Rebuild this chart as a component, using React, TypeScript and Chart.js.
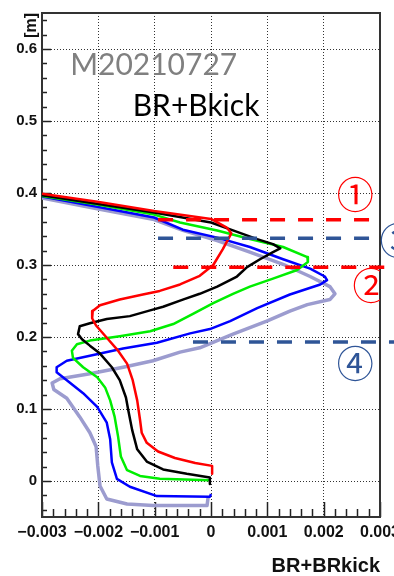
import React, { useEffect, useRef } from "react";
import { Chart, registerables } from "chart.js";

Chart.register(...registerables);

// ---- axis ranges / ticks ----
const X_MIN = -0.003;
const X_MAX = 0.003;
const Y_MIN = -0.05;
const Y_MAX = 0.65;
const X_TICKS = [-0.003, -0.002, -0.001, 0, 0.001, 0.002, 0.003];
const Y_TICKS = [0, 0.1, 0.2, 0.3, 0.4, 0.5, 0.6];
const X_MINOR = 0.0002;
const Y_MINOR = 0.02;

const X_TITLE = "BR+BRkick";
const Y_TITLE = "[m]";
const TEXT_RUN = "M20210727";
const TEXT_CFG = "BR+Bkick";

// ---- series ----
const redX = [-0.0030, -0.00202, -0.00101, 0, 0.00028, 0.00036, 0.00021, 0.00004, -0.0002, -0.00055, -0.00091, -0.00121, -0.00162, -0.00197, -0.0021, -0.00211, -0.00204, -0.00185, -0.00165, -0.00149, -0.00139, -0.00131, -0.00126, -0.00123, -0.00114, -0.00094, -0.00064, -0.00028, 0.00002, 0.00002];
const redY = [0.399, 0.388, 0.375, 0.364, 0.352, 0.344, 0.322, 0.3, 0.285, 0.273, 0.264, 0.259, 0.252, 0.244, 0.236, 0.226, 0.216, 0.199, 0.181, 0.163, 0.14, 0.112, 0.085, 0.067, 0.053, 0.041, 0.032, 0.025, 0.021, 0.01];

const blackX = [-0.0030, -0.00202, -0.00101, 0, 0.00039, 0.00082, 0.0011, 0.00123, 0.0011, 0.00087, 0.00064, 0.00046, 0.00011, -0.0002, -0.0005, -0.00085, -0.00108, -0.00144, -0.00185, -0.00215, -0.00233, -0.00236, -0.00229, -0.00215, -0.00197, -0.00176, -0.00162, -0.00151, -0.00147, -0.0014, -0.00131, -0.00114, -0.00085, -0.00043, -0.00002, -0.00002];
const blackY = [0.397, 0.385, 0.373, 0.359, 0.348, 0.336, 0.329, 0.323, 0.318, 0.308, 0.297, 0.284, 0.27, 0.26, 0.252, 0.242, 0.237, 0.229, 0.225, 0.219, 0.215, 0.204, 0.197, 0.188, 0.177, 0.158, 0.14, 0.116, 0.099, 0.071, 0.044, 0.027, 0.016, 0.01, 0.005, -0.004];

const greenX = [-0.0030, -0.00202, -0.00101, -0.00055, 0.00011, 0.00069, 0.00128, 0.00171, 0.00172, 0.00153, 0.0011, 0.00069, 0.00039, 0.00004, -0.00032, -0.00067, -0.00108, -0.00162, -0.00215, -0.00238, -0.00247, -0.00245, -0.00227, -0.00202, -0.00188, -0.00179, -0.00171, -0.00165, -0.0016, -0.00149, -0.00126, -0.00091, -0.00002];
const greenY = [0.396, 0.384, 0.37, 0.359, 0.348, 0.336, 0.325, 0.311, 0.304, 0.293, 0.281, 0.27, 0.26, 0.247, 0.232, 0.218, 0.208, 0.201, 0.195, 0.19, 0.181, 0.171, 0.158, 0.144, 0.13, 0.112, 0.089, 0.062, 0.034, 0.015, 0.007, 0.003, 0.001];

const blueX = [-0.0030, -0.00202, -0.00101, -0.0005, 0.00011, 0.00069, 0.00128, 0.00176, 0.00202, 0.00206, 0.00194, 0.0014, 0.00082, 0.00034, -0.00002, -0.00037, -0.00096, -0.00156, -0.00215, -0.00256, -0.00274, -0.00274, -0.00256, -0.00227, -0.00202, -0.00185, -0.00179, -0.00176, -0.00167, -0.00144, -0.00096, -0.00002, 0];
const blueY = [0.395, 0.381, 0.366, 0.349, 0.338, 0.325, 0.308, 0.295, 0.284, 0.279, 0.273, 0.259, 0.24, 0.222, 0.211, 0.205, 0.192, 0.184, 0.174, 0.167, 0.158, 0.151, 0.14, 0.122, 0.103, 0.081, 0.058, 0.026, 0.003, -0.008, -0.021, -0.022, -0.018];

const lavX = [-0.0030, -0.00202, -0.00101, -0.0005, 0.00011, 0.00069, 0.00128, 0.00176, 0.00211, 0.0022, 0.00211, 0.00171, 0.0014, 0.00099, 0.00039, -0.0002, -0.00055, -0.00103, -0.00156, -0.00215, -0.00268, -0.00282, -0.00279, -0.00256, -0.00233, -0.00215, -0.00204, -0.00201, -0.00197, -0.00185, -0.00149, -0.00103, -0.00007, -0.00005];
const lavY = [0.393, 0.378, 0.363, 0.348, 0.334, 0.318, 0.301, 0.284, 0.27, 0.26, 0.252, 0.245, 0.236, 0.222, 0.204, 0.185, 0.179, 0.167, 0.158, 0.149, 0.142, 0.136, 0.127, 0.115, 0.089, 0.067, 0.048, 0.021, -0.007, -0.025, -0.032, -0.034, -0.034, -0.022];

// ---- annotation dashed lines (①, ②, ③, ④) ----
const markLabels = ["\u2460", "\u2461", "\u2462", "\u2463"];
const markY = [0.363, 0.297, 0.337, 0.193];
const markXStart = [-0.00094, -0.00067, -0.00094, -0.00032];
const markXEnd = [0.00282, 0.00309, 0.00282, 0.00335];
const markLabelX = [0.00256, 0.00284, 0.00332, 0.00256];
const markLabelY = [0.397, 0.271, 0.333, 0.162];
const markColors = ["#ff0000", "#ff0000", "#2f5597", "#2f5597"];

const RED = "#ff0000";
const BLACK = "#000000";
const GREEN = "#00ee00";
const BLUE = "#0000ff";
const LAV = "#9c9ccf";

const toPts = (xs: number[], ys: number[]) => xs.map((x, i) => ({ x, y: ys[i] }));

const fmtX = (v: number) => {
  if (Math.abs(v) < 1e-12) return "0";
  return (v < 0 ? "\u2212" : "") + Math.abs(v).toFixed(3);
};
const fmtY = (v: number) => {
  if (Math.abs(v) < 1e-12) return "0";
  return v.toFixed(1);
};

const TICK_FONT = "'Liberation Sans', Arial, sans-serif";

export default function App() {
  const ref = useRef<HTMLCanvasElement>(null);

  useEffect(() => {
    const canvas = ref.current;
    if (!canvas) return;

    const decor = {
      id: "decor",
      beforeDatasetsDraw(chart: any) {
        const { ctx, chartArea } = chart;
        const { left, right, top, bottom } = chartArea;
        const xs = chart.scales.x;
        const ys = chart.scales.y;
        ctx.save();
        ctx.strokeStyle = "#222";
        ctx.lineWidth = 1.5;
        // x ticks (inside, pointing up)
        const nx = Math.round((X_MAX - X_MIN) / X_MINOR);
        for (let i = 0; i <= nx; i++) {
          const v = X_MIN + i * X_MINOR;
          const px = Math.round(xs.getPixelForValue(v)) + 0.5;
          const major = i % 5 === 0;
          ctx.beginPath();
          ctx.moveTo(px, bottom);
          ctx.lineTo(px, bottom - (major ? 15 : 8));
          ctx.stroke();
        }
        // y ticks (inside, pointing right)
        for (let i = -2; i <= 32; i++) {
          const v = i * Y_MINOR;
          if (v < Y_MIN || v > Y_MAX) continue;
          const py = Math.round(ys.getPixelForValue(v)) + 0.5;
          const major = i % 5 === 0;
          ctx.beginPath();
          ctx.moveTo(left, py);
          ctx.lineTo(left + (major ? 9 : 5), py);
          ctx.stroke();
        }
        // frame
        ctx.lineWidth = 2;
        ctx.strokeStyle = "#333";
        ctx.strokeRect(left, top, right - left, bottom - top);
        ctx.restore();
      },
      afterDraw(chart: any) {
        const { ctx, chartArea } = chart;
        const xs = chart.scales.x;
        const ys = chart.scales.y;
        ctx.save();
        // free texts
        ctx.textAlign = "left";
        ctx.textBaseline = "alphabetic";
        ctx.font = "30px Lato, 'Open Sans', sans-serif";
        ctx.fillStyle = "#808080";
        ctx.fillText(TEXT_RUN, xs.getPixelForValue(-0.0025), ys.getPixelForValue(0.564));
        ctx.fillStyle = "#000";
        ctx.fillText(TEXT_CFG, xs.getPixelForValue(-0.00139), ys.getPixelForValue(0.507));
        // circled numbers
        ctx.font = "37px 'Noto Sans CJK JP', sans-serif";
        ctx.textAlign = "center";
        ctx.textBaseline = "middle";
        for (let i = 0; i < markLabels.length; i++) {
          ctx.save();
          if (i === 1) {
            ctx.beginPath();
            ctx.rect(0, 0, chartArea.right, chart.height);
            ctx.clip();
          }
          ctx.fillStyle = markColors[i];
          ctx.fillText(markLabels[i], xs.getPixelForValue(markLabelX[i]), ys.getPixelForValue(markLabelY[i]));
          ctx.restore();
        }
        ctx.restore();
      },
    };

    const curve = (label: string, xs: number[], ys: number[], color: string, width: number) => ({
      label,
      data: toPts(xs, ys),
      showLine: true,
      borderColor: color,
      backgroundColor: color,
      borderWidth: width,
      pointRadius: 0,
      pointHoverRadius: 0,
      tension: 0,
      fill: false,
      borderJoinStyle: "round" as const,
    });

    const markSets = markLabels.map((lab, i) => ({
      label: "mark " + lab,
      data: [
        { x: markXStart[i], y: markY[i] },
        { x: markXEnd[i], y: markY[i] },
      ],
      showLine: true,
      borderColor: markColors[i],
      backgroundColor: markColors[i],
      borderWidth: 3.5,
      borderDash: [15, 13],
      borderCapStyle: "butt" as const,
      pointRadius: 0,
      tension: 0,
      fill: false,
      clip: false as any,
    }));

    const datasets = [
      ...markSets,
      curve("red", redX, redY, RED, 2.5),
      curve("black", blackX, blackY, BLACK, 2.5),
      curve("green", greenX, greenY, GREEN, 2.5),
      curve("blue", blueX, blueY, BLUE, 2.5),
      curve("lavender", lavX, lavY, LAV, 3.5),
    ];

    const chart = new Chart(canvas, {
      type: "scatter",
      data: { datasets },
      options: {
        responsive: false,
        devicePixelRatio: 1,
        animation: false,
        events: [],
        layout: { padding: { top: 13, right: 14, bottom: 0, left: 0 } },
        plugins: {
          legend: { display: false },
          tooltip: { enabled: false },
        },
        scales: {
          x: {
            type: "linear",
            min: X_MIN,
            max: X_MAX,
            afterBuildTicks: (s: any) => {
              s.ticks = X_TICKS.map((value) => ({ value }));
            },
            afterFit: (s: any) => {
              s.height = 59;
              s.paddingLeft = 0;
              s.paddingRight = 0;
            },
            ticks: {
              autoSkip: false,
              maxRotation: 0,
              minRotation: 0,
              padding: 6,
              color: "#111",
              font: { family: TICK_FONT, size: 16, weight: "bold" },
              callback: (v: any) => fmtX(Number(v)),
            },
            grid: {
              color: "#333",
              lineWidth: 1,
              drawTicks: false,
              borderDash: [1, 2],
            } as any,
            border: { display: false, dash: [1, 2] },
            title: {
              display: true,
              text: X_TITLE,
              align: "end",
              color: "#111",
              font: { family: TICK_FONT, size: 20, weight: "bold", lineHeight: 1 },
              padding: { top: 0, bottom: 0 },
            },
          },
          y: {
            type: "linear",
            min: Y_MIN,
            max: Y_MAX,
            afterBuildTicks: (s: any) => {
              s.ticks = Y_TICKS.map((value) => ({ value }));
            },
            afterFit: (s: any) => {
              s.width = 42;
              s.paddingTop = 0;
              s.paddingBottom = 0;
            },
            ticks: {
              autoSkip: false,
              padding: 5,
              color: "#111",
              font: { family: TICK_FONT, size: 15, weight: "bold" },
              callback: (v: any) => fmtY(Number(v)),
            },
            grid: {
              color: "#333",
              lineWidth: 1,
              drawTicks: false,
              borderDash: [1, 2],
            } as any,
            border: { display: false, dash: [1, 2] },
            title: {
              display: true,
              text: Y_TITLE,
              align: "end",
              color: "#111",
              font: { family: TICK_FONT, size: 16, weight: "bold", lineHeight: 1 },
              padding: { top: 24, bottom: 0 },
            },
          },
        },
      } as any,
      plugins: [decor],
    });

    return () => chart.destroy();
  }, []);

  return (
    <div style={{ position: "fixed", left: 0, top: 0, width: 394, height: 576, background: "#fff" }}>
      <canvas ref={ref} width={394} height={576} style={{ width: 394, height: 576, display: "block" }} />
    </div>
  );
}
